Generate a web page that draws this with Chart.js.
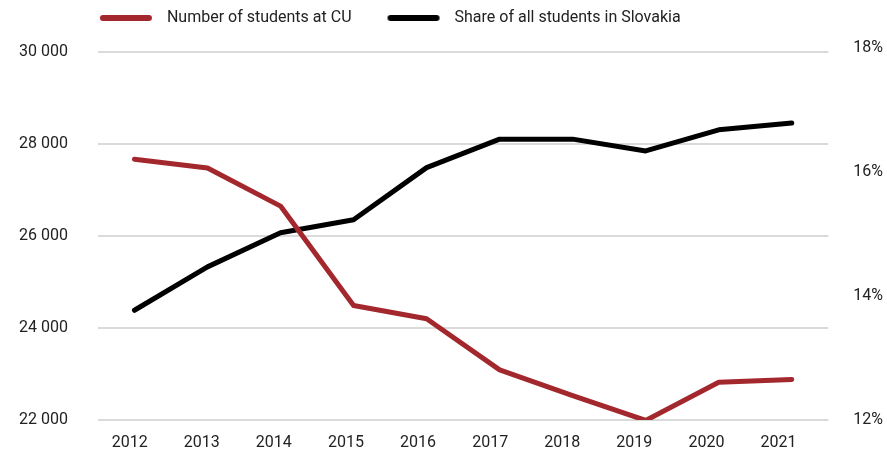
<!DOCTYPE html>
<html>
<head>
<meta charset="utf-8">
<script src="https://cdn.jsdelivr.net/npm/chart.js@4"></script>
<style>
  body { margin: 0; background: #fff; }
  #wrap { width: 887px; height: 451px; }
</style>
</head>
<body>
<div id="wrap"><canvas id="chart"></canvas></div>
<script>
// data
const years = [2012, 2013, 2014, 2015, 2016, 2017, 2018, 2019, 2020, 2021];
const studentsCU = [27670, 27480, 26650, 24490, 24200, 23090, 22530, 21990, 22820, 22880];
const shareSlovakia = [13.77, 14.47, 15.02, 15.23, 16.07, 16.53, 16.53, 16.34, 16.68, 16.79];
const shareTicks = [12, 14, 16, 18];

const RED = '#a3282d';
const BLACK = '#000000';
const GRID = '#dadada';

Chart.defaults.font.family = 'Roboto';
Chart.defaults.font.size = 16;
Chart.defaults.color = '#222';

// legend marker: a rounded bar with some blank room on the left and right
function legendPill(color) {
    const c = document.createElement('canvas');
    c.width = 85;
    c.height = 8;
    const g = c.getContext('2d');
    g.strokeStyle = color;
    g.lineWidth = 6;
    g.lineCap = 'round';
    g.beginPath();
    g.moveTo(29, 4);
    g.lineTo(75, 4);
    g.stroke();
    return c;
}

// push the plot down under the legend and line the legend up with the plot
const legendTweak = {
    id: 'legendTweak',
    afterInit(chart) {
        const fit = chart.legend.fit;
        chart.legend.fit = function () {
            fit.call(this);
            this.height += 16;
        };
    },
    afterLayout(chart) {
        chart.legend.left = chart.chartArea.left - 34;
    }
};

const fmtThousands = (v) => String(v).replace(/\B(?=(\d{3})+(?!\d))/g, ' ');

// ticks.padding counts twice in v4, so the gaps come from invisible tick marks instead
const hiddenTicks = (len) => ({ drawTicks: true, tickLength: len, tickColor: 'transparent' });

new Chart(document.getElementById('chart'), {
    type: 'line',
    data: {
        labels: years.map(String),
        datasets: [
            {
                label: 'Number of students at CU',
                data: studentsCU,
                borderColor: RED,
                backgroundColor: RED,
                borderWidth: 5,
                borderCapStyle: 'round',
                borderJoinStyle: 'round',
                pointRadius: 0,
                pointHoverRadius: 0,
                pointStyle: legendPill(RED),
                xAxisID: 'x',
                yAxisID: 'y'
            },
            {
                label: 'Share of all students in Slovakia',
                data: shareSlovakia,
                borderColor: BLACK,
                backgroundColor: BLACK,
                borderWidth: 5,
                borderCapStyle: 'round',
                borderJoinStyle: 'round',
                pointRadius: 0,
                pointHoverRadius: 0,
                pointStyle: legendPill(BLACK),
                xAxisID: 'x',
                yAxisID: 'y2'
            }
        ]
    },
    options: {
        responsive: true,
        maintainAspectRatio: false,
        animation: false,
        events: [],
        layout: { padding: { left: 19, right: 4, top: 0, bottom: 0 } },
        plugins: {
            tooltip: { enabled: false },
            legend: {
                position: 'top',
                align: 'start',
                labels: {
                    usePointStyle: true,
                    pointStyleWidth: 85,
                    boxHeight: 8,
                    padding: 10,
                    color: '#222',
                    font: { size: 16 }
                }
            }
        },
        scales: {
            x: {
                type: 'category',
                offset: true,
                display: false
            },
            // year labels sit a little left of the points in the reference
            years: {
                type: 'linear',
                position: 'bottom',
                min: 2011.56,
                max: 2021.69,
                grid: { drawOnChartArea: false, ...hiddenTicks(15) },
                border: { display: false },
                afterBuildTicks: (axis) => {
                    axis.ticks = years.map((v) => ({ value: v }));
                },
                ticks: {
                    autoSkip: false,
                    maxRotation: 0,
                    padding: 0,
                    font: { size: 16, lineHeight: 1 },
                    callback: (v) => String(v)
                }
            },
            y: {
                position: 'left',
                min: 22000,
                max: 30000,
                grid: { color: GRID, lineWidth: 2, ...hiddenTicks(30) },
                border: { display: false },
                ticks: {
                    stepSize: 2000,
                    padding: 0,
                    callback: (v) => fmtThousands(v)
                }
            },
            y2: {
                position: 'right',
                min: 12,
                max: 12 + 368 / 62,
                grid: { drawOnChartArea: false, ...hiddenTicks(25) },
                border: { display: false },
                afterBuildTicks: (axis) => {
                    axis.ticks = shareTicks.map((v) => ({ value: v }));
                },
                ticks: {
                    autoSkip: false,
                    padding: 0,
                    callback: (v) => v + '%'
                }
            }
        }
    },
    plugins: [legendTweak]
});
</script>
</body>
</html>
